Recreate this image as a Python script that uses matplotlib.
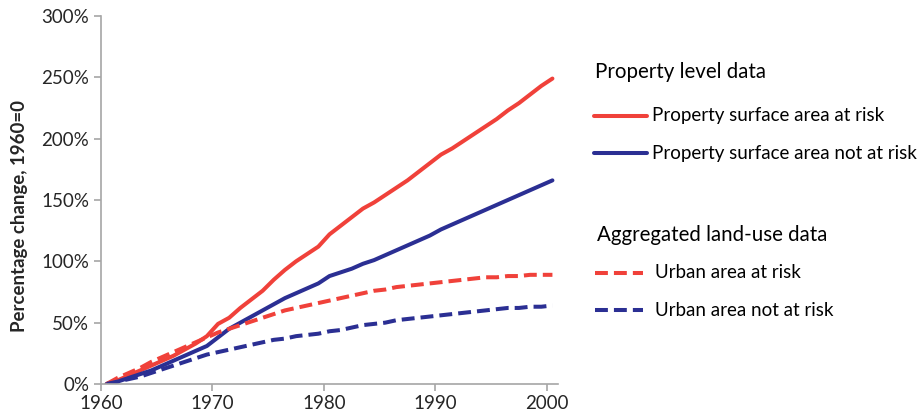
import matplotlib.pyplot as plt
from matplotlib.lines import Line2D

plt.rcParams['font.family'] = ['Lato', 'DejaVu Sans']

# data, percentage change relative to 1960
years = list(range(1960, 2001))
prop_risk = [0, 3, 7, 11, 15, 19, 23, 28, 33, 39,
             49, 54, 62, 69, 76, 85, 93, 100, 106, 112,
             122, 129, 136, 143, 148, 154, 160, 166, 173, 180,
             187, 192, 198, 204, 210, 216, 223, 229, 236, 243, 249]
prop_norisk = [0, 2, 5, 8, 11, 15, 19, 23, 27, 31,
               38, 45, 50, 55, 60, 65, 70, 74, 78, 82,
               88, 91, 94, 98, 101, 105, 109, 113, 117, 121,
               126, 130, 134, 138, 142, 146, 150, 154, 158, 162, 166]
urban_risk = [0, 5, 9, 13, 18, 22, 26, 30, 34, 38,
              42, 45, 48, 51, 54, 57, 60, 62, 64, 66,
              68, 70, 72, 74, 76, 77, 79, 80, 81, 82,
              83, 84, 85, 86, 87, 87, 88, 88, 89, 89, 89]
urban_norisk = [0, 2, 4, 6, 9, 12, 15, 18, 21, 24,
                26, 28, 30, 32, 34, 36, 37, 39, 40, 41,
                43, 44, 46, 48, 49, 50, 52, 53, 54, 55,
                56, 57, 58, 59, 60, 61, 62, 62, 63, 63, 64]
tick_years = [1960, 1970, 1980, 1990, 2000]
yticks = [0, 50, 100, 150, 200, 250, 300]

red = '#F0413A'
blue = '#2B2F93'
lw = 2.9
dash = (3.2, 1.5)

fig = plt.figure(figsize=(9.2, 4.19), dpi=100)
ax = fig.add_axes([101 / 920, 1 - 384 / 419, 457 / 920, 368 / 419])

ax.plot(years, prop_risk, color=red, lw=lw, solid_capstyle='round')
ax.plot(years, prop_norisk, color=blue, lw=lw, solid_capstyle='round')
ax.plot(years, urban_risk, color=red, lw=lw, dashes=dash)
ax.plot(years, urban_norisk, color=blue, lw=lw, dashes=dash)

ax.set_xlim(1959.5, 2000.5)
ax.set_ylim(0, 300)
ax.set_xticks([y - 0.5 for y in tick_years])
ax.set_xticklabels([str(y) for y in tick_years])
ax.set_yticks(yticks)
ax.set_yticklabels([f'{v}%' for v in yticks])

for s in ['top', 'right']:
    ax.spines[s].set_visible(False)
for s in ['left', 'bottom']:
    ax.spines[s].set_color('#A6A6A6')
    ax.spines[s].set_linewidth(1.2)
ax.tick_params(axis='both', colors='#A6A6A6', length=5, width=1.2,
               labelsize=13.5, labelcolor='#262626')
ax.tick_params(axis='x', pad=3)

fig.text(20 / 920, 1 - 216 / 419, 'Percentage change, 1960=0', rotation=90,
         ha='center', va='center', fontsize=13.4, fontweight='bold', color='#262626')

# legend built by hand
def leg_line(x0, x1, y, color, dashes=None):
    ln = Line2D([x0 / 920, x1 / 920], [1 - y / 419, 1 - y / 419],
                transform=fig.transFigure, color=color, lw=lw)
    if dashes:
        ln.set_dashes(dashes)
    else:
        ln.set_solid_capstyle('round')
    fig.add_artist(ln)

fig.text(595 / 920, 1 - 72 / 419, 'Property level data', fontsize=14.8,
         va='center', ha='left', color='#000000')
leg_line(594, 647, 116, red)
fig.text(652 / 920, 1 - 116 / 419, 'Property surface area at risk',
         fontsize=13.5, va='center', ha='left', color='#000000')
leg_line(594, 647, 153, blue)
fig.text(652 / 920, 1 - 153 / 419, 'Property surface area not at risk',
         fontsize=13.5, va='center', ha='left', color='#000000')

fig.text(597 / 920, 1 - 235 / 419, 'Aggregated land-use data', fontsize=14.8,
         va='center', ha='left', color='#000000')
leg_line(595, 643, 273, red, dash)
fig.text(655 / 920, 1 - 273 / 419, 'Urban area at risk',
         fontsize=13.5, va='center', ha='left', color='#000000')
leg_line(595, 643, 310, blue, dash)
fig.text(655 / 920, 1 - 310 / 419, 'Urban area not at risk',
         fontsize=13.5, va='center', ha='left', color='#000000')

fig.savefig('out.png', dpi=100)
